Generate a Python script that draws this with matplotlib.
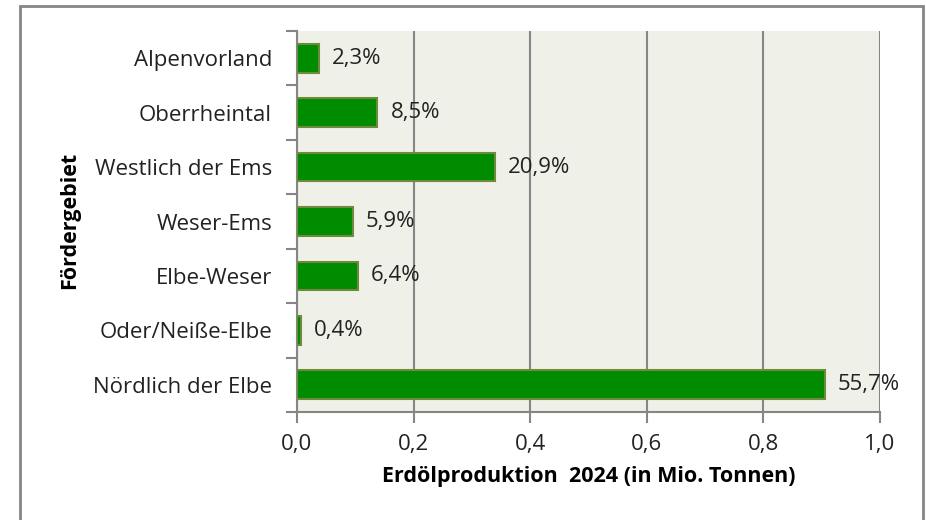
import matplotlib
matplotlib.use("Agg")
import matplotlib.pyplot as plt
from matplotlib.patches import Rectangle
import numpy as np

# Daten
regionen = ["Alpenvorland", "Oberrheintal", "Westlich der Ems", "Weser-Ems",
            "Elbe-Weser", "Oder/Neiße-Elbe", "Nördlich der Elbe"]
produktion = [0.037, 0.138, 0.340, 0.096, 0.104, 0.007, 0.905]
anteile = ["2,3%", "8,5%", "20,9%", "5,9%", "6,4%", "0,4%", "55,7%"]
xticks = [0.0, 0.2, 0.4, 0.6, 0.8, 1.0]
xticklabels = ["0,0", "0,2", "0,4", "0,6", "0,8", "1,0"]

FONT = ["Open Sans", "DejaVu Sans"]
GRAU = "#868686"
TEXT = "#222222"
FS = 16

plt.rcParams["font.family"] = FONT

fig = plt.figure(figsize=(9.26, 5.2), dpi=100)
W, H = 926, 520
ax = fig.add_axes([297 / W, 1 - 412 / H, (880 - 297) / W, (412 - 31) / H])

# Rahmen um die Grafik
fig.patches.append(Rectangle((19.5 / W, -0.05), (923 - 19.5) / W, 1 - 5.5 / H + 0.05,
                             transform=fig.transFigure, fill=False,
                             edgecolor=GRAU, linewidth=2))

pos = np.arange(len(regionen))
ax.barh(pos, produktion, height=0.53, color="#008C00", edgecolor="#6E8B3D", linewidth=1.5,
        zorder=3)
for p, v, a in zip(pos, produktion, anteile):
    ax.annotate(a, (v, p), xytext=(13, 0), textcoords="offset pixels",
                va="center", ha="left", fontsize=FS, color=TEXT, zorder=4)

ax.set_ylim(len(regionen) - 0.5, -0.5)
ax.set_xlim(0, 1.0)
ax.set_facecolor("#EFF1E9")

ax.set_yticks(pos)
ax.set_yticklabels(regionen, fontsize=FS, color=TEXT)
ax.set_yticks(np.arange(-0.5, len(regionen), 1), minor=True)
ax.tick_params(axis="y", which="major", length=0, pad=18)
ax.tick_params(axis="y", which="minor", length=8, width=1.5, color=GRAU)

ax.set_xticks(xticks)
ax.set_xticklabels(xticklabels, fontsize=FS, color=TEXT)
ax.tick_params(axis="x", length=8, width=1.5, color=GRAU, pad=8)

ax.grid(axis="x", color=GRAU, linewidth=1.5, zorder=0)
ax.set_axisbelow(True)

for s in ["top", "right"]:
    ax.spines[s].set_visible(False)
for s in ["left", "bottom"]:
    ax.spines[s].set_color(GRAU)
    ax.spines[s].set_linewidth(1.5)

ax.set_xlabel("Erdölproduktion  2024 (in Mio. Tonnen)", fontsize=15.5, fontweight="bold",
              labelpad=8)
fig.text(70 / W, 1 - 220 / H, "Fördergebiet", rotation=90, fontsize=15.5,
         fontweight="bold", ha="center", va="center")

fig.savefig("out.png", dpi=100)
